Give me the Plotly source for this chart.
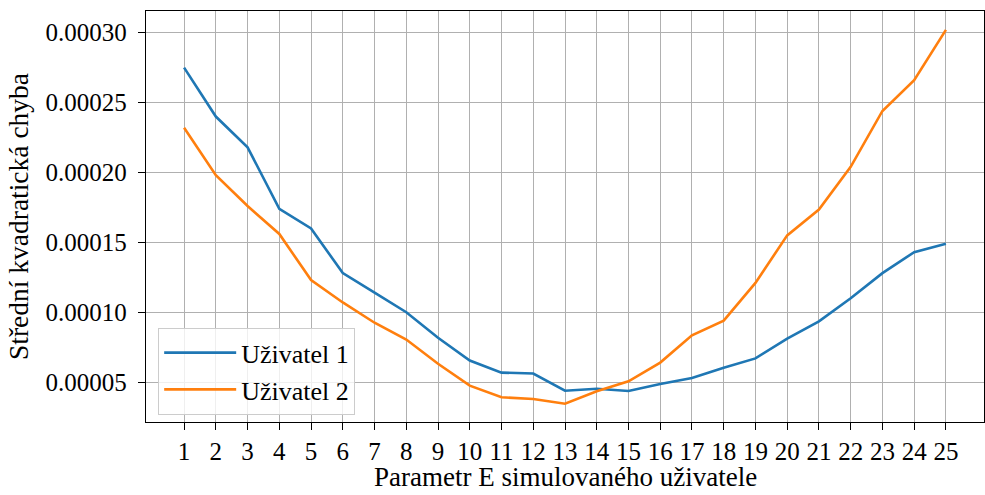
import plotly.graph_objects as go

x_values = list(range(1, 26))
uzivatel_1 = [0.000275, 0.000240, 0.000218, 0.000174, 0.000160, 0.000128, 0.000114, 0.000100,
              0.0000818, 0.0000655, 0.0000568, 0.0000562, 0.0000439, 0.0000453, 0.0000437,
              0.0000487, 0.0000530, 0.0000603, 0.0000670, 0.0000812, 0.0000935, 0.000110,
              0.000128, 0.000143, 0.000149]
uzivatel_2 = [0.000232, 0.000198, 0.000176, 0.000156, 0.000123, 0.000107, 0.0000925, 0.0000805,
              0.0000632, 0.0000475, 0.0000392, 0.0000380, 0.0000346, 0.0000435, 0.0000506,
              0.0000640, 0.0000835, 0.0000940, 0.000121, 0.000155, 0.0001735, 0.000204,
              0.000244, 0.000266, 0.000302]
y_ticks = [0.00005, 0.00010, 0.00015, 0.00020, 0.00025, 0.00030]
y_tick_labels = ["0.00005", "0.00010", "0.00015", "0.00020", "0.00025", "0.00030"]
x_title = "Parametr E simulovaného uživatele"
y_title = "Střední kvadratická chyba"

FONT = "Liberation Serif"
FS = 25

fig = go.Figure()
fig.add_trace(go.Scatter(x=x_values, y=uzivatel_1, mode="lines", name="Uživatel 1",
                         line=dict(color="#1f77b4", width=2.6)))
fig.add_trace(go.Scatter(x=x_values, y=uzivatel_2, mode="lines", name="Uživatel 2",
                         line=dict(color="#ff7f0e", width=2.6)))

axis_common = dict(showline=True, linecolor="black", linewidth=1.4, mirror=True,
                   ticks="outside", ticklen=7, tickwidth=1.3, tickcolor="black",
                   showgrid=True, gridcolor="#b0b0b0", gridwidth=1.3, zeroline=False,
                   automargin=False,
                   tickfont=dict(family=FONT, size=FS, color="black"))

fig.update_layout(
    width=985, height=495,
    margin=dict(l=146, r=1, t=11, b=73, autoexpand=False),
    plot_bgcolor="white", paper_bgcolor="white",
    font=dict(family=FONT, color="black"),
    xaxis=dict(range=[-0.2, 26.2], tickmode="array", tickvals=x_values,
               ticktext=[str(v) for v in x_values], ticklabelstandoff=0,
               **axis_common),
    yaxis=dict(range=[0.0000215, 0.0003155], tickmode="array", tickvals=y_ticks,
               ticktext=y_tick_labels, ticklabelstandoff=6,
               title=dict(text=y_title,
                          font=dict(family=FONT, size=27.5, color="black"), standoff=8),
               **axis_common),
    legend=dict(x=0.0143, y=0.017, xanchor="left", yanchor="bottom",
                bgcolor="rgba(255,255,255,0.8)", bordercolor="#cccccc", borderwidth=1.2,
                font=dict(family=FONT, size=26, color="black"),
                itemwidth=72, tracegroupgap=0),
    showlegend=True,
    annotations=[dict(text=x_title, xref="paper", yref="paper", x=0.5, y=0,
                      xanchor="center", yanchor="middle", yshift=-55, showarrow=False,
                      font=dict(family=FONT, size=27, color="black"))],
)

fig.write_html("out.html", config={"displayModeBar": False},
               post_script="document.body.style.margin='0';")
